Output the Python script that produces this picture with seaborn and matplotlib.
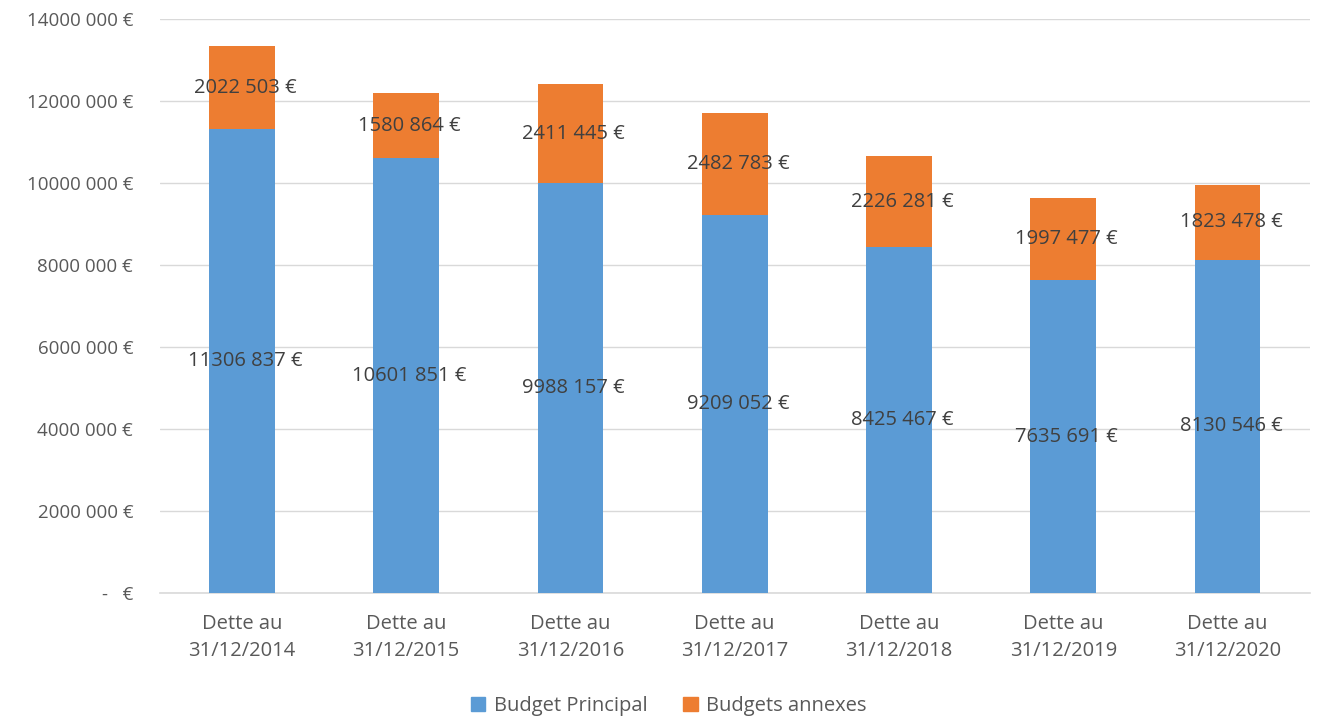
import matplotlib
matplotlib.use("Agg")
import matplotlib.pyplot as plt
import seaborn as sns
import pandas as pd
from matplotlib.patches import Patch

categories = ["Dette au\n31/12/2014", "Dette au\n31/12/2015", "Dette au\n31/12/2016",
              "Dette au\n31/12/2017", "Dette au\n31/12/2018", "Dette au\n31/12/2019",
              "Dette au\n31/12/2020"]
budget_principal = [11306837, 10601851, 9988157, 9209052, 8425467, 7635691, 8130546]
budgets_annexes = [2022503, 1580864, 2411445, 2482783, 2226281, 1997477, 1823478]
ytick_values = [0, 2000000, 4000000, 6000000, 8000000, 10000000, 12000000, 14000000]
ytick_labels = ["-   €", "2000 000 €", "4000 000 €", "6000 000 €", "8000 000 €",
                "10000 000 €", "12000 000 €", "14000 000 €"]

BLUE = "#5B9BD5"
ORANGE = "#ED7D31"

sns.set_theme(style="white")
plt.rcParams["font.family"] = ["Open Sans", "DejaVu Sans"]

def fmt(v):
    s = f"{v:d}"
    return f"{s[:-3]} {s[-3:]} €"

df = pd.DataFrame({"cat": categories, "bp": budget_principal, "ba": budgets_annexes})
df["total"] = df["bp"] + df["ba"]

fig = plt.figure(figsize=(13.19, 7.2), dpi=100)
ax = fig.add_axes([0.121, 0.176, 0.872, 0.798])

sns.barplot(data=df, x="cat", y="total", color=ORANGE, saturation=1, width=0.4, ax=ax,
            linewidth=0, edgecolor="none", zorder=2)
sns.barplot(data=df, x="cat", y="bp", color=BLUE, saturation=1, width=0.4, ax=ax,
            linewidth=0, edgecolor="none", zorder=3)

for i, (bp, ba) in enumerate(zip(budget_principal, budgets_annexes)):
    ax.text(i + 0.02, bp / 2, fmt(bp), ha="center", va="center", fontsize=14.5, color="#404040", zorder=5)
    ax.text(i + 0.02, bp + ba / 2, fmt(ba), ha="center", va="center", fontsize=14.5, color="#404040", zorder=5)

ax.set_ylim(0, 14000000)
ax.set_xlim(-0.5, len(categories) - 0.5)
ax.set_yticks(ytick_values)
ax.set_yticklabels(ytick_labels)
ax.yaxis.grid(True, color="#D9D9D9", linewidth=1, zorder=0)
ax.set_axisbelow(True)
for s in ["top", "right", "left"]:
    ax.spines[s].set_visible(False)
ax.spines["bottom"].set_color("#D9D9D9")
ax.spines["bottom"].set_linewidth(1.2)
ax.tick_params(axis="x", length=0, labelsize=14.5, colors="#595959", pad=15)
ax.tick_params(axis="y", length=0, labelsize=13.5, colors="#595959", pad=19)
for lbl in ax.get_xticklabels():
    lbl.set_linespacing(1.45)
ax.set_xlabel("")
ax.set_ylabel("")

handles = [Patch(color=BLUE, label="Budget Principal"), Patch(color=ORANGE, label="Budgets annexes")]
fig.legend(handles=handles, loc="center", bbox_to_anchor=(0.507, 0.02), ncol=2, frameon=False,
           fontsize=14.5, handlelength=0.7, handleheight=0.7, handletextpad=0.4,
           columnspacing=1.8, labelcolor="#595959")

fig.savefig("out.png", dpi=100)
